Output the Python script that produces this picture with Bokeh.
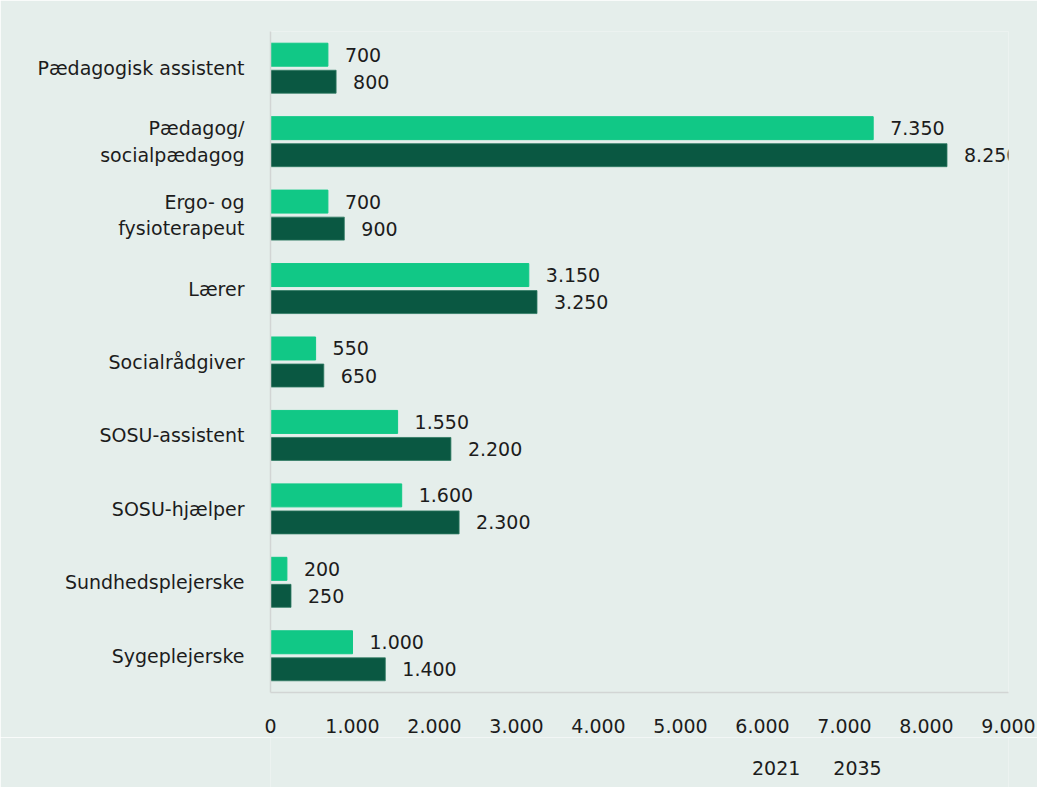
from bokeh.plotting import figure
from bokeh.layouts import column
from bokeh.models import ColumnDataSource, FixedTicker, Legend, LegendItem, Range1d
from bokeh.transform import dodge
from bokeh.core.properties import value
from bokeh.embed import file_html
from bokeh.resources import INLINE

categories = ["Pædagogisk assistent", "Pædagog/\nsocialpædagog", "Ergo- og\nfysioterapeut",
              "Lærer", "Socialrådgiver", "SOSU-assistent", "SOSU-hjælper",
              "Sundhedsplejerske", "Sygeplejerske"]
v2021 = [700, 7350, 700, 3150, 550, 1550, 1600, 200, 1000]
v2035 = [800, 8250, 900, 3250, 650, 2200, 2300, 250, 1400]
series = ["2021", "2035"]
x_ticks = [0, 1000, 2000, 3000, 4000, 5000, 6000, 7000, 8000, 9000]

def fmt(n):
    return f"{n:,}".replace(",", ".")

FONT = "DejaVu Sans"
FS = "19px"
BG = "#e5eeeb"
C1 = "#11c886"
C2 = "#0a5842"
EDGE2 = "#2f7a62"
TXT = "#1c1c1c"

src = ColumnDataSource(dict(
    cat=categories, v1=v2021, v2=v2035,
    l1=[fmt(v) for v in v2021], l2=[fmt(v) for v in v2035],
))

p = figure(y_range=list(reversed(categories)), x_range=Range1d(0, 9000),
           frame_width=738, frame_height=661,
           output_backend="svg", toolbar_location=None,
           min_border_left=270, min_border_right=29, min_border_top=31, min_border_bottom=45)
p.background_fill_color = BG
p.border_fill_color = BG
p.outline_line_color = None
p.xgrid.grid_line_color = None
p.ygrid.grid_line_color = None

p.hbar(y=dodge("cat", 0.184, range=p.y_range), right="v1", left=0, height=0.313,
       source=src, fill_color=C1, line_color=C1)
p.hbar(y=dodge("cat", -0.184, range=p.y_range), right="v2", left=0, height=0.313,
       source=src, fill_color=C2, line_color=EDGE2, line_width=0.8)

p.text(x="v1", y=dodge("cat", 0.184, range=p.y_range), text="l1", source=src,
       x_offset=17, text_baseline="middle", text_font=value(FONT),
       text_font_size=FS, text_color=TXT)
p.text(x="v2", y=dodge("cat", -0.184, range=p.y_range), text="l2", source=src,
       x_offset=17, text_baseline="middle", text_font=value(FONT),
       text_font_size=FS, text_color=TXT)

xa = p.xaxis[0]
xa.ticker = FixedTicker(ticks=x_ticks)
xa.major_label_overrides = {t: fmt(t) for t in x_ticks}
xa.axis_line_color = "#d2d5d4"
xa.axis_line_width = 1.5
xa.major_tick_line_color = None
xa.minor_tick_line_color = None
xa.major_label_standoff = 20
xa.major_label_text_font = FONT
xa.major_label_text_font_size = FS
xa.major_label_text_color = TXT

ya = p.yaxis[0]
ya.axis_line_color = "#d2d5d4"
ya.axis_line_width = 1.5
ya.major_tick_line_color = None
ya.minor_tick_line_color = None
ya.major_label_standoff = 20
ya.major_label_text_font = FONT
ya.major_label_text_font_size = FS
ya.major_label_text_color = TXT

# legend strip below the chart (separate figure so the legend is never clipped)
lg = figure(width=1037, height=50, x_range=Range1d(0, 1), y_range=Range1d(0, 1),
            output_backend="svg", toolbar_location=None,
            x_axis_location=None, y_axis_location=None,
            min_border_left=0, min_border_right=0, min_border_top=0, min_border_bottom=0)
lg.background_fill_color = BG
lg.border_fill_color = BG
lg.outline_line_color = None
lg.xgrid.grid_line_color = None
lg.ygrid.grid_line_color = None
empty = ColumnDataSource(dict(y=[], right=[]))
k1 = lg.hbar(y="y", right="right", left=0, height=0.3, source=empty,
             fill_color=C1, line_color=C1)
k2 = lg.hbar(y="y", right="right", left=0, height=0.3, source=empty,
             fill_color=C2, line_color=C2)

legend = Legend(items=[LegendItem(label=series[0], renderers=[k1]),
                       LegendItem(label=series[1], renderers=[k2])],
                orientation="horizontal", location=(463, 8),
                glyph_width=12, glyph_height=12, label_standoff=7, spacing=14,
                padding=0, margin=0, border_line_color=None,
                background_fill_alpha=0,
                label_text_font=FONT, label_text_font_size=FS, label_text_color=TXT)
lg.add_layout(legend)

layout = column(p, lg, spacing=0)

open("out.html", "w").write(file_html(layout, INLINE))
